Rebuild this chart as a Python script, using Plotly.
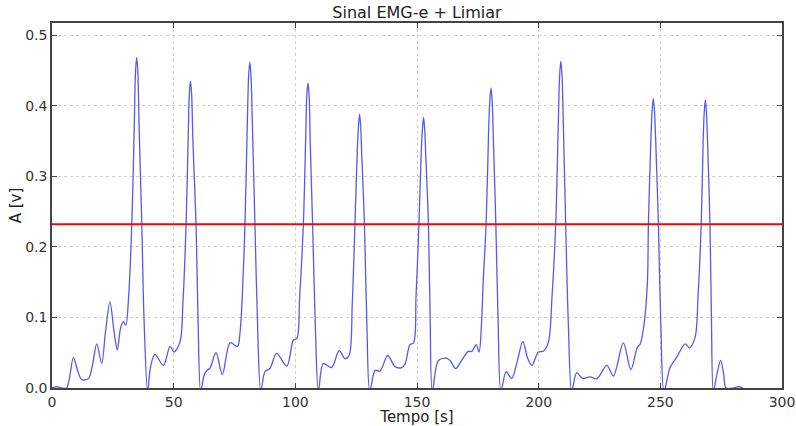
import plotly.graph_objects as go

# Signal (time in s, amplitude in V)
tempo = [
    0, 2, 4, 6, 8.8, 10.5, 12.2, 14.9, 16.5, 18.4, 20.4, 22, 23.8, 25.5, 26.8, 28.2, 29.3, 30.3,
    31.5, 32.8, 33.8, 34.3, 34.8, 35.3, 35.8, 36.9, 37.8, 39.3,
    40.5, 42.3, 45.8, 48.5, 50.1, 52.6, 53.8, 55.1, 56.0, 56.4, 56.9, 57.4, 57.9, 59.2, 60.0, 61.1,
    62.5, 63.6, 64.9, 67.4, 70, 73.2, 76.2, 77.3, 78.2, 79.3, 80.3, 80.8, 81.3, 81.8, 82.3, 83.4, 84.4, 85.8,
    87.5, 89.6, 92.3, 96.5, 99.2, 100.6, 101.8, 103.3, 104.3, 104.7, 105.2, 105.7, 106.1, 107.1, 108.2, 109.5,
    111.5, 114.9, 118, 120.4, 122.1, 123.4, 124.5, 125.5, 125.95, 126.4, 126.85, 127.3, 128.4, 129.4, 130.6,
    132.8, 134.8, 138, 141, 143.7, 145.1, 147.1, 148.6, 149.6, 150.8, 151.8, 152.25, 152.7, 153.15, 153.6, 154.7, 155.4, 156.3,
    158.8, 162.2, 163.6, 165.9, 168.5, 171.1, 172.5, 174.3, 175.5, 176.5, 177.2, 178.4, 179.4, 179.9, 180.4, 180.9, 181.4, 182.4, 183.3, 184.5,
    186.6, 188.9, 191, 193.5, 195.5, 197.2, 199.9, 201.9, 204, 205.5, 207, 208.1, 208.6, 209.1, 209.6, 210.1, 211.1, 212.2, 213.6,
    215.6, 218.1, 221.1, 223.9, 228, 230.7, 234.8, 237.9, 240.6, 241.7, 243.3, 244.7, 245.1, 246.1, 246.6, 247.1, 247.6, 248.1, 249.2, 250.2, 251.5,
    254, 256.8, 260.2, 262, 264.3, 265.5, 266.8, 267.6, 268.05, 268.5, 268.95, 269.4, 270.4, 271.0, 271.8,
    273.3, 274.8, 276, 277, 280, 282, 284,
]
amplitude = [
    0, 0.002, 0, 0, 0.043, 0.025, 0.012, 0.013, 0.03, 0.0625, 0.035, 0.08, 0.122, 0.08, 0.054, 0.085, 0.094, 0.089,
    0.13, 0.232, 0.37, 0.446, 0.468, 0.446, 0.37, 0.232, 0.1, -0.005,
    0.03, 0.0475, 0.032, 0.059, 0.051, 0.065, 0.12, 0.232, 0.36, 0.415, 0.435, 0.415, 0.35, 0.232, 0.1, -0.005,
    0.018, 0.025, 0.028, 0.05, 0.019, 0.064, 0.059, 0.08, 0.13, 0.232, 0.38, 0.441, 0.462, 0.441, 0.38, 0.232, 0.1, -0.005,
    0.023, 0.028, 0.049, 0.031, 0.068, 0.07, 0.13, 0.232, 0.36, 0.413, 0.432, 0.413, 0.35, 0.232, 0.09, -0.005,
    0.0345, 0.029, 0.053, 0.0415, 0.046, 0.12, 0.232, 0.34, 0.371, 0.388, 0.371, 0.33, 0.232, 0.09, -0.005,
    0.025, 0.024, 0.046, 0.030, 0.029, 0.034, 0.0615, 0.064, 0.13, 0.232, 0.34, 0.367, 0.383, 0.367, 0.33, 0.232, 0.1, -0.005,
    0.039, 0.042, 0.039, 0.0275, 0.04, 0.052, 0.0515, 0.0615, 0.051, 0.09, 0.15, 0.232, 0.36, 0.406, 0.425, 0.406, 0.35, 0.232, 0.1, -0.005,
    0.023, 0.0135, 0.035, 0.0657, 0.042, 0.032, 0.051, 0.052, 0.065, 0.13, 0.232, 0.38, 0.442, 0.463, 0.442, 0.38, 0.232, 0.09, -0.005,
    0.0215, 0.0135, 0.0158, 0.013, 0.032, 0.017, 0.064, 0.026, 0.058, 0.062, 0.09, 0.151, 0.232, 0.35, 0.392, 0.41, 0.392, 0.35, 0.232, 0.09, -0.005,
    0.029, 0.044, 0.0625, 0.057, 0.072, 0.13, 0.232, 0.35, 0.391, 0.408, 0.391, 0.35, 0.232, 0.1, -0.005,
    0.02, 0.039, 0.02, 0, 0, 0.002, 0,
]

limiar_x = [0, 300]
limiar = 0.232

x_ticks = [0, 50, 100, 150, 200, 250, 300]
y_ticks = [0.0, 0.1, 0.2, 0.3, 0.4, 0.5]

fig = go.Figure()
fig.add_trace(go.Scatter(
    x=tempo, y=amplitude, mode="lines",
    line=dict(color="#5858f0", width=1.3, shape="spline", smoothing=0.9),
    hoverinfo="skip", showlegend=False,
))
fig.add_trace(go.Scatter(
    x=limiar_x, y=[limiar, limiar], mode="lines",
    line=dict(color="#ff0000", width=2),
    hoverinfo="skip", showlegend=False,
))

font_family = "DejaVu Sans"
axis_common = dict(
    automargin=False,
    showline=True, linecolor="#444444", linewidth=1.5, mirror="ticks",
    ticks="inside", ticklen=5, tickcolor="#444444", tickwidth=1,
    showgrid=True, gridcolor="#d0d0d0", griddash="dot", gridwidth=1,
    zeroline=False,
    tickfont=dict(family=font_family, size=14, color="#333333"),
)

fig.update_layout(
    template="none",
    width=796, height=426,
    margin=dict(l=52, r=14, t=23, b=38, autoexpand=False),
    paper_bgcolor="white", plot_bgcolor="white",
    title=dict(text="Sinal EMG-e + Limiar", x=(52 + 782) / 2 / 796, xanchor="center",
               y=1 - 12 / 426, yanchor="middle",
               font=dict(family=font_family, size=16, color="#222222")),
    xaxis=dict(range=[0, 300], tickvals=x_ticks, ticktext=[str(v) for v in x_ticks],
               title=dict(text="Tempo [s]", standoff=0,
                          font=dict(family=font_family, size=15, color="#222222")),
               **axis_common),
    yaxis=dict(range=[0, 0.517], tickvals=y_ticks, ticktext=[f"{v:.1f}" for v in y_ticks],
               title=dict(text="A [v]", standoff=0,
                          font=dict(family=font_family, size=15, color="#222222")),
               **axis_common),
)

fig.write_html("out.html")
